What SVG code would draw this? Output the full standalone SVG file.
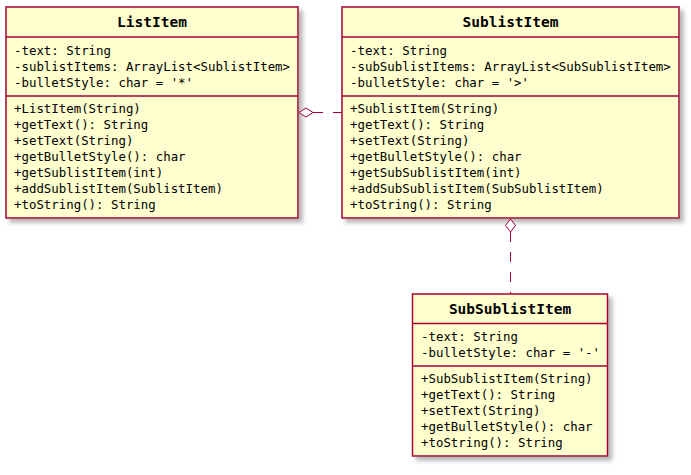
<svg xmlns="http://www.w3.org/2000/svg" width="691" height="475" viewBox="0 0 691 475">
<defs>
<filter id="sh" x="-10%" y="-10%" width="130%" height="130%">
<feGaussianBlur in="SourceAlpha" stdDeviation="2"/>
<feOffset dx="4" dy="4" result="b"/>
<feColorMatrix in="b" type="matrix" values="0 0 0 0 0.2  0 0 0 0 0.2  0 0 0 0 0.2  0 0 0 0.55 0" result="c"/>
<feMerge><feMergeNode in="c"/><feMergeNode in="SourceGraphic"/></feMerge>
</filter>
<style>
.box{fill:#FEFECE;stroke:#A80036;stroke-width:1.5;filter:url(#sh)}
.div{stroke:#A80036;stroke-width:1.5}
.t{font-family:"DejaVu Sans Mono","Liberation Mono",monospace;font-size:12.4px;fill:#000}
.h{font-family:"DejaVu Sans Mono","Liberation Mono",monospace;font-size:14.5px;font-weight:bold;fill:#000;text-anchor:middle}
.ln{stroke:#A80036;stroke-width:1;fill:none;stroke-dasharray:10,10}
.dm{fill:#FFFFFF;stroke:#A80036;stroke-width:1}
</style>
</defs>
<rect width="691" height="475" fill="#FFFFFF"/>
<g id="ListItem">
<rect class="box" x="6" y="7" width="292" height="211"/>
<line class="div" x1="6" y1="37" x2="298" y2="37"/>
<line class="div" x1="6" y1="96" x2="298" y2="96"/>
<text class="h" x="152" y="27">ListItem</text>
<text class="t" x="14" y="55">-text: String</text>
<text class="t" x="14" y="71">-sublistItems: ArrayList&lt;SublistItem&gt;</text>
<text class="t" x="14" y="87">-bulletStyle: char = '*'</text>
<text class="t" x="14" y="113">+ListItem(String)</text>
<text class="t" x="14" y="129">+getText(): String</text>
<text class="t" x="14" y="145">+setText(String)</text>
<text class="t" x="14" y="161">+getBulletStyle(): char</text>
<text class="t" x="14" y="177">+getSublistItem(int)</text>
<text class="t" x="14" y="193">+addSublistItem(SublistItem)</text>
<text class="t" x="14" y="209">+toString(): String</text>
</g>
<g id="SublistItem">
<rect class="box" x="342" y="7" width="337" height="211"/>
<line class="div" x1="342" y1="37" x2="679" y2="37"/>
<line class="div" x1="342" y1="96" x2="679" y2="96"/>
<text class="h" x="510.5" y="27">SublistItem</text>
<text class="t" x="350" y="55">-text: String</text>
<text class="t" x="350" y="71">-subSublistItems: ArrayList&lt;SubSublistItem&gt;</text>
<text class="t" x="350" y="87">-bulletStyle: char = '&gt;'</text>
<text class="t" x="350" y="113">+SublistItem(String)</text>
<text class="t" x="350" y="129">+getText(): String</text>
<text class="t" x="350" y="145">+setText(String)</text>
<text class="t" x="350" y="161">+getBulletStyle(): char</text>
<text class="t" x="350" y="177">+getSubSublistItem(int)</text>
<text class="t" x="350" y="193">+addSubSublistItem(SubSublistItem)</text>
<text class="t" x="350" y="209">+toString(): String</text>
</g>
<g id="SubSublistItem">
<rect class="box" x="412.5" y="294" width="195" height="162"/>
<line class="div" x1="412.5" y1="323.5" x2="607.5" y2="323.5"/>
<line class="div" x1="412.5" y1="366" x2="607.5" y2="366"/>
<text class="h" x="510" y="314">SubSublistItem</text>
<text class="t" x="421" y="341">-text: String</text>
<text class="t" x="421" y="357">-bulletStyle: char = '-'</text>
<text class="t" x="421" y="383">+SubSublistItem(String)</text>
<text class="t" x="421" y="399">+getText(): String</text>
<text class="t" x="421" y="415">+setText(String)</text>
<text class="t" x="421" y="431">+getBulletStyle(): char</text>
<text class="t" x="421" y="447">+toString(): String</text>
</g>
<g id="connectors">
<line class="ln" x1="313" y1="112.5" x2="342" y2="112.5"/>
<polygon class="dm" points="299,112.5 306,108 313,112.5 306,117"/>
<line class="ln" x1="510.5" y1="232" x2="510.5" y2="294"/>
<polygon class="dm" points="510.5,219 515.5,225.5 510.5,232 505.5,225.5"/>
</g>
</svg>
